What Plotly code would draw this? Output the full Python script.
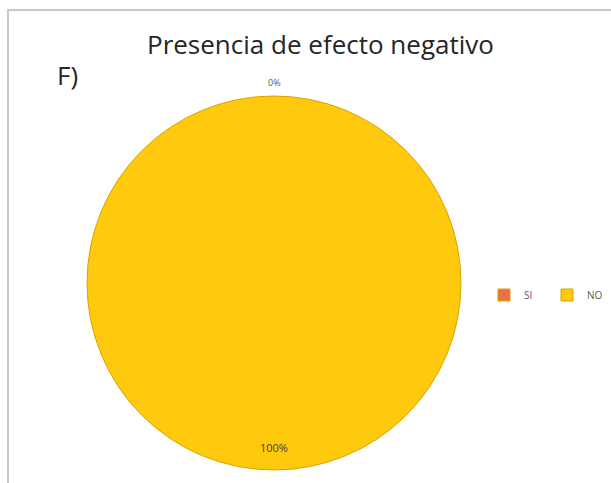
import plotly.graph_objects as go

labels = ["SI", "NO"]
values = [0, 100]
colors = ["#E8704A", "#FFC90E"]
title_text = "Presencia de efecto negativo"
panel_label = "F)"

W, H = 611, 483
CX, CY, R = 274, 283, 187
total = sum(values)
pct = [f"{v / total * 100:.0f}%" for v in values]

fig = go.Figure()
fig.add_trace(go.Pie(
    labels=labels,
    values=values,
    marker=dict(colors=colors, line=dict(color="#D9A400", width=1)),
    textinfo="none",
    sort=False,
    direction="clockwise",
    rotation=0,
    hoverinfo="label+percent",
    domain=dict(x=[(CX - R) / W, (CX + R) / W], y=[(H - CY - R) / H, (H - CY + R) / H]),
    showlegend=True,
))


def label(x, y, text, size, color):
    fig.add_annotation(x=x / W, y=1 - y / H, xref="paper", yref="paper", text=text,
                       xanchor="center", yanchor="middle", showarrow=False,
                       font=dict(size=size, color=color, family="Open Sans"))


# percentage labels
label(CX, 82, pct[0], 9, "#595959")
label(CX, 447, pct[1], 11, "#404040")

# title and panel label
label(320, 44, title_text, 26, "#262626")
label(67, 75, panel_label, 26, "#262626")

# chart border (top and left visible)
fig.add_shape(type="rect", xref="paper", yref="paper",
              x0=8 / W, x1=1.05, y0=-0.05, y1=1 - 10 / H,
              line=dict(color="#C8C8C8", width=2), fillcolor="rgba(0,0,0,0)")

fig.update_layout(
    width=W, height=H,
    margin=dict(l=0, r=0, t=0, b=0, autoexpand=False),
    paper_bgcolor="white",
    plot_bgcolor="white",
    legend=dict(orientation="h", x=484 / W, y=1 - 295 / H, xanchor="left", yanchor="middle",
                font=dict(size=10, color="#595959", family="Open Sans"),
                itemwidth=30, entrywidth=18, traceorder="normal"),
)

fig.write_html("out.html")
